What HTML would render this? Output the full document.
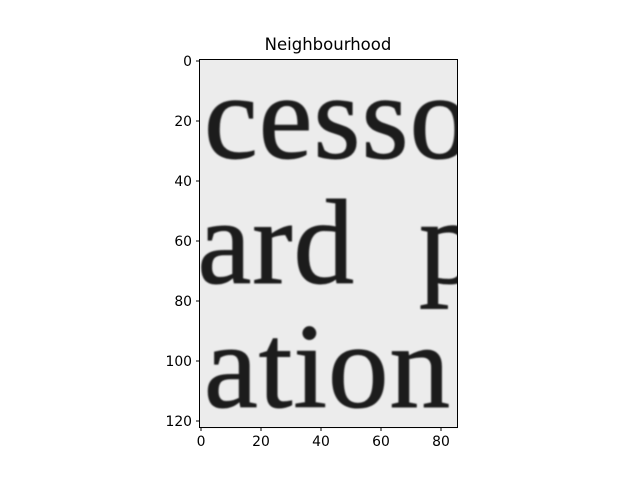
<!DOCTYPE html>
<html><head><meta charset="utf-8"><style>
body{margin:0;background:#fff}
svg text{font-family:"DejaVu Sans","Liberation Sans",sans-serif}
svg text.serif{font-family:"Liberation Serif","DejaVu Serif",serif;letter-spacing:1px}
</style></head><body>
<svg width="640" height="480" viewBox="0 0 640 480">
<defs><clipPath id="clip"><rect x="199.5" y="59.5" width="258" height="369"/></clipPath>
<filter id="blur"><feGaussianBlur stdDeviation="0.8"/></filter></defs>
<text x="328" y="50" font-size="16.5" text-anchor="middle" fill="#000">Neighbourhood</text>
<g clip-path="url(#clip)">
<rect x="199.5" y="59.5" width="258" height="369" fill="#ececec"/>
<g filter="url(#blur)" fill="#1c1c1c" stroke="#1c1c1c" stroke-width="1" font-size="121">
<text class="serif" x="204" y="158">cesso</text>
<text class="serif" x="355" y="283" text-anchor="end">ard</text>
<text class="serif" x="419" y="283">p</text>
<text class="serif" x="204" y="407">ation</text>
</g>
</g>
<rect x="199.5" y="59.5" width="258" height="368" fill="none" stroke="#000" stroke-width="1"/>
<g id="xt"></g>
<g id="yt"></g>
</svg>
<script>
const xTicks=[0,20,40,60,80];
const yTicks=[0,20,40,60,80,100,120];
const ns="http://www.w3.org/2000/svg";
const xs=v=>201+3*v, ys=v=>61+3*v;
const xg=document.getElementById('xt'), yg=document.getElementById('yt');
xTicks.forEach(v=>{
 const l=document.createElementNS(ns,'line');
 l.setAttribute('x1',xs(v));l.setAttribute('x2',xs(v));l.setAttribute('y1',427.5);l.setAttribute('y2',431);l.setAttribute('stroke','#000');
 
 
 xg.appendChild(l);
 const t=document.createElementNS(ns,'text');
 t.setAttribute('x',xs(v));t.setAttribute('y',446);t.setAttribute('text-anchor','middle');t.setAttribute('font-size','13.9');
 t.textContent=v;
 
 
 xg.appendChild(t);
});
yTicks.forEach(v=>{
 const l=document.createElementNS(ns,'line');
 l.setAttribute('x1',196);l.setAttribute('x2',199.5);l.setAttribute('y1',ys(v));l.setAttribute('y2',ys(v));l.setAttribute('stroke','#000');
 
 
 yg.appendChild(l);
 const t=document.createElementNS(ns,'text');
 t.setAttribute('x',192);t.setAttribute('y',ys(v)+5);t.setAttribute('text-anchor','end');t.setAttribute('font-size','13.9');
 t.textContent=v;
 
 
 yg.appendChild(t);
});
</script>
</body></html>
